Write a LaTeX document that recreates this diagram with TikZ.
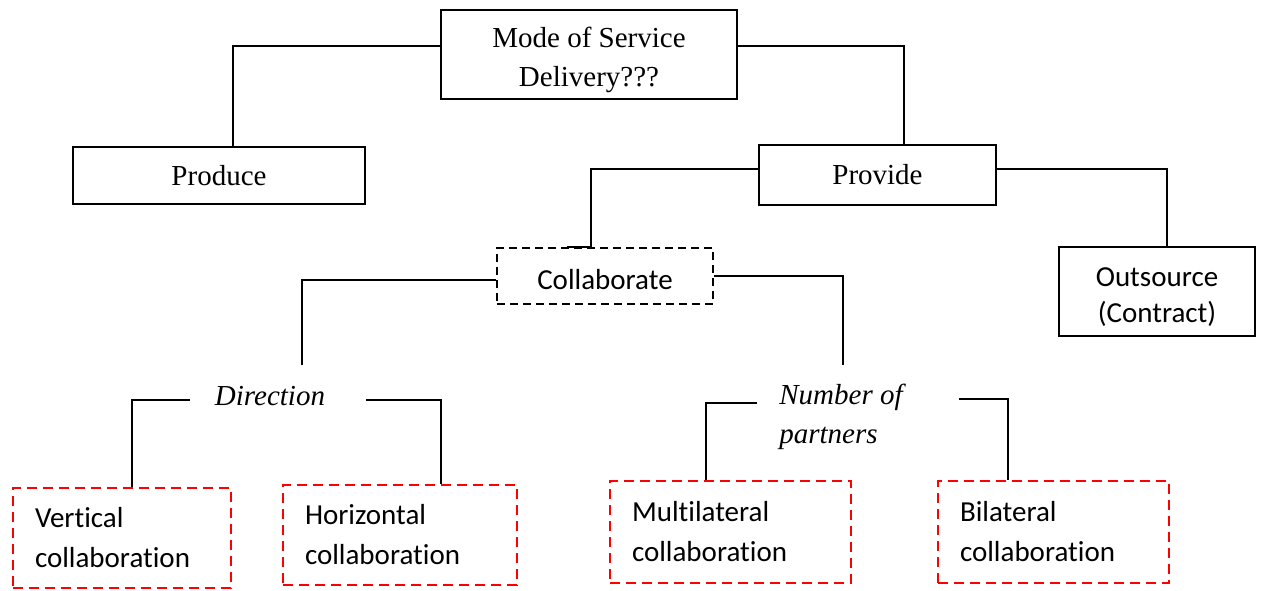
\documentclass[tikz,border=0pt]{standalone}
\usepackage{fontspec}
\setmainfont{Liberation Serif}
\newfontfamily\calibrifont[Ligatures=NoCommon]{Carlito}
\begin{document}
\begin{tikzpicture}[x=1pt,y=-1pt,
  conn/.style={line width=1.7pt},
  solidbox/.style={draw,line width=1.7pt,inner sep=0pt},
  dashbox/.style={draw,line width=2.4pt,dash pattern=on 8pt off 5pt,inner sep=0pt},
  serif/.style={inner sep=0pt,align=center,font=\fontsize{29}{39}\selectfont},
  sans/.style={inner sep=0pt,align=center,font=\calibrifont\fontsize{29}{36}\selectfont},
  redbox/.style={draw=red,line width=2.8pt,dash pattern=on 10pt off 6pt,inner xsep=22pt,inner ysep=0pt,align=left,font=\calibrifont\fontsize{29}{40}\selectfont},
  label/.style={inner sep=0pt,font=\itshape\fontsize{29}{39}\selectfont,align=left}]
\useasboundingbox (0,0) rectangle (1261,591);

\node[solidbox,minimum width=296pt,minimum height=89pt] (mode) at (589,54.5) {};
\node[serif] (modetext) at (589,60) {Mode of Service\\Delivery???};
\node[solidbox,serif,draw,line width=1.7pt,minimum width=292pt,minimum height=57pt] (produce) at (219,175.5) {Produce};
\node[solidbox,serif,draw,line width=1.7pt,minimum width=237pt,minimum height=60pt] (provide) at (877.5,175) {Provide};
\node[solidbox,minimum width=196pt,minimum height=89pt] (outsource) at (1157,291.5) {};
\node[sans] (outtext) at (1157,297.5) {Outsource\\(Contract)};
\node[dashbox,minimum width=216pt,minimum height=56pt] (collab) at (605,276) {};
\node[sans] (collabtext) at (605,279.5) {Collaborate};

\node[redbox,text width=174pt,minimum height=100pt] (vert) at (122,538) {Vertical\\collaboration};
\node[redbox,text width=190pt,minimum height=100pt] (horiz) at (400,535) {Horizontal\\collaboration};
\node[redbox,text width=197pt,minimum height=102pt] (multi) at (730.5,532) {Multilateral\\collaboration};
\node[redbox,text width=187pt,minimum height=102pt] (bilat) at (1053.5,532) {Bilateral\\collaboration};

\node[label] (direction) at (270,396) {Direction};
\node[label] (number) at (841,417) {Number of\\partners};

\coordinate (ca) at (302,365);
\coordinate (cb) at (843,365);
\coordinate (da) at (190,400);
\coordinate (db) at (366,400);
\coordinate (na) at (757,403);
\coordinate (nb) at (959,399);

\draw[conn] ([yshift=8.5pt]mode.west) -| ([xshift=14pt]produce.north);
\draw[conn] ([yshift=8.5pt]mode.east) -| ([xshift=26.5pt]provide.north);
\draw[conn] ([yshift=6pt]provide.west) -| ([xshift=-14pt]collab.north) -- ([xshift=-38pt]collab.north);
\draw[conn] ([yshift=6pt]provide.east) -| ([xshift=10pt]outsource.north);
\draw[conn] ([yshift=-4pt]collab.west) -| (ca);
\draw[conn] (collab.east) -| (cb);
\draw[conn] (da) -| ([xshift=10pt]vert.north);
\draw[conn] (db) -| ([xshift=41pt]horiz.north);
\draw[conn] (na) -| ([xshift=-24.5pt]multi.north);
\draw[conn] (nb) -| ([xshift=-45.5pt]bilat.north);
\end{tikzpicture}
\end{document}
